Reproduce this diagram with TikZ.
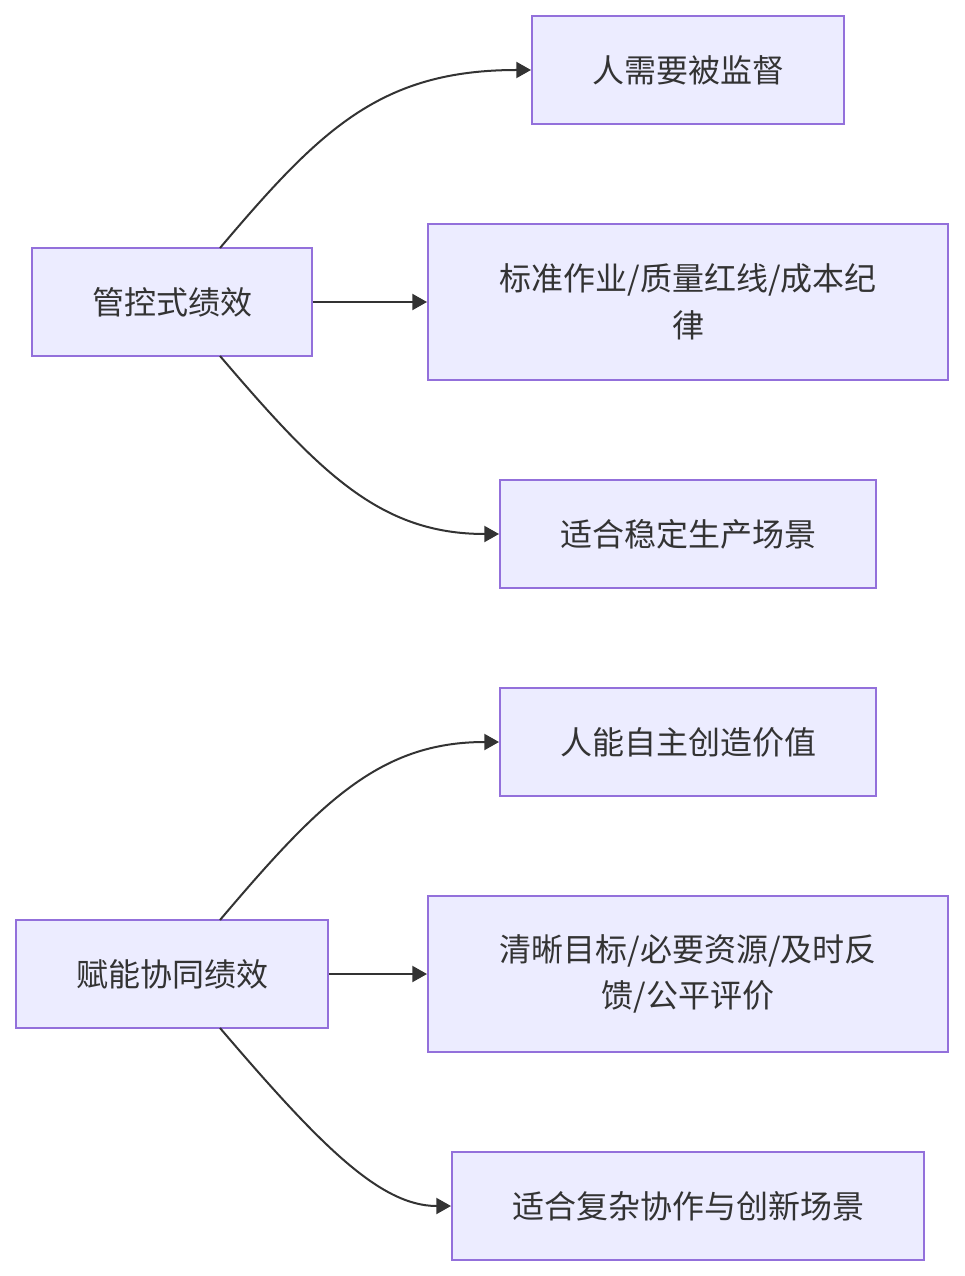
\documentclass[tikz,border=0pt]{standalone}
\usepackage{fontspec}
\setmainfont{Noto Sans CJK SC}
\usetikzlibrary{arrows.meta}
\begin{document}
\begin{tikzpicture}[x=0.75pt,y=-0.75pt,
  box/.style={draw=boxborder,fill=boxfill,line width=1.5pt,minimum height=81pt,inner sep=0pt,
    font=\fontsize{24}{35}\selectfont,text=textc,align=center},
  conn/.style={draw=linec,line width=1.5pt,-{Triangle[length=11pt,width=12pt]}}]
\definecolor{boxfill}{HTML}{ECECFF}
\definecolor{boxborder}{HTML}{9370DB}
\definecolor{textc}{HTML}{333333}
\definecolor{linec}{HTML}{333333}
\useasboundingbox (0,0) rectangle (964,1276);
% group 1
\node[box,minimum width=210pt] (A) at (172,302) {管控式绩效};
\node[box,minimum width=234pt] (A1) at (688,70) {人需要被监督};
\node[box,minimum width=390pt,minimum height=117pt] (A2) at (688,302) {标准作业/质量红线/成本纪\\律};
\node[box,minimum width=282pt] (A3) at (688,534) {适合稳定生产场景};
% group 2
\node[box,minimum width=234pt] (B) at (172,974) {赋能协同绩效};
\node[box,minimum width=282pt] (B1) at (688,742) {人能自主创造价值};
\node[box,minimum width=390pt,minimum height=117pt] (B2) at (688,974) {清晰目标/必要资源/及时反\\馈/公平评价};
\node[box,minimum width=354pt] (B3) at (688,1206) {适合复杂协作与创新场景};
% connectors
\coordinate (At) at (220,248);
\coordinate (Ab) at (220,356);
\coordinate (Bt) at (220,920);
\coordinate (Bb) at (220,1028);
\draw[conn] (At) .. controls (320,130) and (380,70) .. (A1.west);
\draw[conn] (A.east) -- (A2.west);
\draw[conn] (Ab) .. controls (320,473) and (380,534) .. (A3.west);
\draw[conn] (Bt) .. controls (320,802) and (380,742) .. (B1.west);
\draw[conn] (B.east) -- (B2.west);
\draw[conn] (Bb) .. controls (320,1145) and (380,1206) .. (B3.west);
\end{tikzpicture}
\end{document}
